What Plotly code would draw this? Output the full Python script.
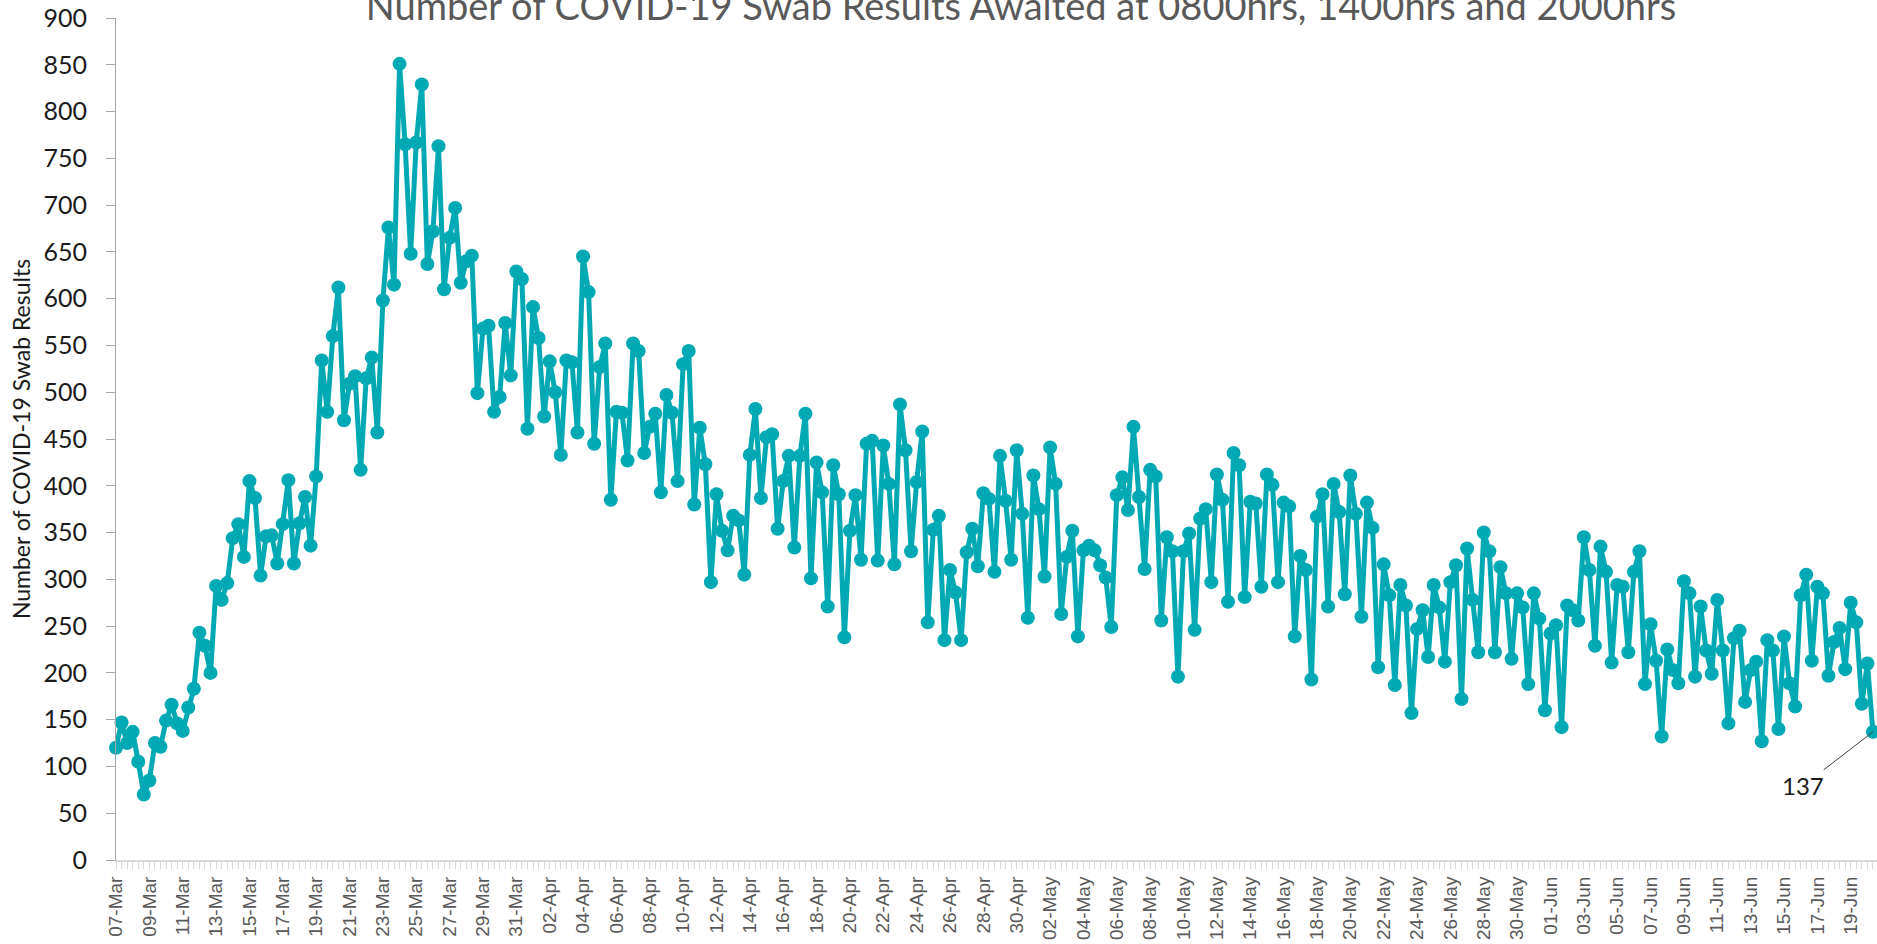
import plotly.graph_objects as go
import pandas as pd

title_text = "Number of COVID-19 Swab Results Awaited at 0800hrs, 1400hrs and 2000hrs"
y_title = "Number of COVID-19 Swab Results"
reading_times = ["0800hrs", "1400hrs", "2000hrs"]
first_day = "2020-03-07"

# Swab results awaited, three readings per day from 07-Mar 0800hrs
awaited = [
    120, 147, 125, 137, 105, 70, 85, 125, 121, 149, 166, 146, 138, 163, 183,
    243, 229, 200, 293, 278, 296, 344, 359, 324, 405, 387, 304, 346, 347, 317,
    359, 406, 317, 360, 388, 336, 410, 534, 479, 560, 612, 470, 509, 517, 417,
    515, 537, 457, 598, 676, 615, 851, 765, 648, 767, 829, 637, 672, 763, 610,
    665, 697, 617, 640, 646, 499, 568, 571, 479, 495, 574, 518, 629, 621, 461,
    591, 558, 474, 533, 500, 433, 534, 532, 457, 645, 607, 445, 527, 552, 385,
    479, 478, 427, 552, 544, 435, 463, 477, 393, 497, 478, 405, 530, 544, 380,
    462, 423, 297, 391, 352, 331, 368, 363, 305, 433, 482, 387, 452, 455, 354,
    405, 432, 334, 432, 477, 301, 425, 393, 271, 422, 391, 238, 352, 390, 321,
    445, 448, 320, 443, 402, 316, 487, 438, 330, 404, 458, 254, 353, 368, 235,
    310, 286, 235, 329, 354, 314, 392, 386, 308, 432, 384, 321, 438, 370, 259,
    411, 375, 303, 441, 402, 263, 324, 352, 239, 331, 336, 331, 315, 302, 249,
    390, 409, 374, 463, 388, 311, 417, 410, 256, 345, 330, 196, 330, 349, 246,
    365, 375, 297, 412, 385, 276, 435, 422, 281, 383, 381, 292, 412, 401, 297,
    382, 378, 239, 325, 310, 193, 367, 391, 271, 402, 372, 284, 411, 370, 260,
    382, 355, 206, 316, 283, 187, 294, 272, 157, 247, 267, 217, 294, 270, 212,
    297, 315, 172, 333, 278, 222, 350, 330, 222, 313, 285, 215, 285, 270, 188,
    285, 258, 160, 242, 251, 142, 272, 267, 256, 345, 310, 229, 335, 308, 211,
    294, 292, 222, 308, 330, 188, 252, 213, 132, 225, 203, 189, 298, 285, 196,
    271, 224, 199, 278, 224, 146, 237, 245, 169, 203, 212, 127, 235, 224, 140,
    239, 189, 164, 283, 305, 213, 292, 285, 197, 233, 248, 204, 275, 254, 167,
    210, 137,
]

n = len(awaited)
idx = list(range(n))
days = pd.date_range(first_day, periods=(n + 2) // 3, freq="D")
point_labels = [f"{days[i // 3].strftime('%d-%b')} {reading_times[i % 3]}" for i in idx]
tick_idx = list(range(0, n, 6))
tick_text = [days[i // 3].strftime("%d-%b") for i in tick_idx]

teal = "#00A9B4"

fig = go.Figure()
fig.add_trace(go.Scatter(
    x=idx, y=awaited, mode="lines+markers",
    line=dict(color=teal, width=5),
    marker=dict(color=teal, size=14),
    customdata=point_labels,
    hovertemplate="%{customdata}: %{y}<extra></extra>",
    cliponaxis=False,
    showlegend=False,
))

fig.add_annotation(
    x=idx[-1], y=awaited[-1], text=str(awaited[-1]),
    showarrow=True, arrowhead=0, arrowwidth=1, arrowcolor="#404040",
    ax=-70, ay=54,
    font=dict(family="Lato", size=24, color="#1a1a1a"),
)

fig.update_layout(
    width=1877, height=944, autosize=False,
    margin=dict(l=116, r=0, t=18, b=84),
    paper_bgcolor="white", plot_bgcolor="white",
    title=dict(
        text=title_text, xref="container", yref="container",
        x=1021 / 1877, xanchor="center", y=1 - 7 / 944, yanchor="middle",
        font=dict(family="Lato", size=38, color="#595959"),
    ),
    xaxis=dict(
        range=[0, (1877 - 116) / 5.56],
        tickmode="array", tickvals=tick_idx, ticktext=tick_text,
        tickangle=-90,
        tickfont=dict(family="Liberation Sans", size=19, color="#595959"),
        showline=True, linecolor="#d9d9d9", linewidth=2,
        ticks="outside", ticklen=7, tickcolor="#d9d9d9", tickwidth=1,
        minor=dict(dtick=1, tick0=0, ticks="outside", ticklen=7,
                   tickcolor="#d9d9d9", tickwidth=1),
        showgrid=False, zeroline=False,
    ),
    yaxis=dict(
        range=[0, 900], tick0=0, dtick=50,
        tickfont=dict(family="Lato", size=25, color="#1a1a1a"),
        showline=True, linecolor="#a6a6a6", linewidth=1,
        ticks="outside", ticklen=9, tickcolor="#a6a6a6",
        ticklabelstandoff=14,
        showgrid=False, zeroline=False,
        title=dict(text=y_title, standoff=6,
                   font=dict(family="Lato", size=23, color="#1a1a1a")),
    ),
)

fig.write_html("out.html", config={"displayModeBar": False},
               post_script="document.body.style.margin='0';")
